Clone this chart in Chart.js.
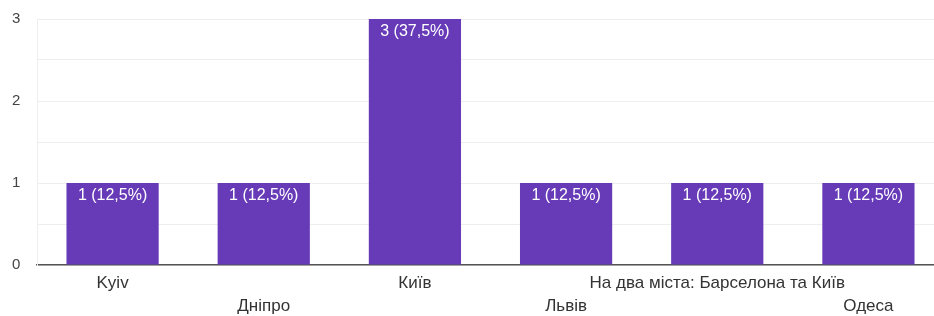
<!DOCTYPE html>
<html>
<head>
<meta charset="utf-8">
<script src="https://cdn.jsdelivr.net/npm/chart.js@4"></script>
<style>
    html, body { margin: 0; padding: 0; background: #fff; overflow: hidden; }
    #wrap { width: 944px; height: 316px; }
</style>
</head>
<body>
<div id="wrap"><canvas id="answersChart"></canvas></div>
<script>
// Chart data
const categories = ['Kyiv', 'Дніпро', 'Київ', 'Львів', 'На два міста: Барселона та Київ', 'Одеса'];
const answerCounts = [1, 1, 3, 1, 1, 1];
const yTicks = [0, 1, 2, 3];

// alternate labels between two rows so they don't overlap
const tickLabels = categories.map((c, i) => i % 2 === 0 ? [c] : ['', c]);

const FONT = '"Liberation Sans", Arial, sans-serif';

// draws "n (xx,x%)" inside the top of each bar
const barLabels = {
    id: 'barLabels',
    afterDatasetsDraw(chart) {
        const ctx = chart.ctx;
        const data = chart.data.datasets[0].data;
        const total = data.reduce((a, b) => a + b, 0);
        const meta = chart.getDatasetMeta(0);
        ctx.save();
        ctx.font = '16px ' + FONT;
        ctx.fillStyle = '#ffffff';
        ctx.textAlign = 'center';
        ctx.textBaseline = 'middle';
        meta.data.forEach((bar, i) => {
            const pct = (data[i] / total * 100).toFixed(1).replace('.', ',');
            ctx.fillText(data[i] + ' (' + pct + '%)', bar.x, bar.y + 13);
        });
        ctx.restore();
    }
};

const ctx = document.getElementById('answersChart').getContext('2d');
new Chart(ctx, {
    type: 'bar',
    data: {
        labels: tickLabels,
        datasets: [{
            data: answerCounts,
            backgroundColor: '#673ab7',
            categoryPercentage: 1,
            barPercentage: 0.61
        }]
    },
    options: {
        responsive: true,
        maintainAspectRatio: false,
        animation: false,
        layout: { padding: { top: 19, right: 0, left: 12, bottom: 0 } },
        plugins: {
            legend: { display: false },
            tooltip: { enabled: false }
        },
        scales: {
            x: {
                grid: { display: false, drawTicks: false },
                border: { display: true, color: '#555555', width: 1.5 },
                ticks: {
                    color: '#333333',
                    font: { family: FONT, size: 17, lineHeight: 1.35 },
                    maxRotation: 0,
                    autoSkip: false,
                    padding: 7
                },
                afterFit(scale) { scale.height = 51; }
            },
            y: {
                min: yTicks[0],
                max: yTicks[yTicks.length - 1],
                grid: { color: '#eeeeee', drawTicks: false },
                border: { display: true, color: '#eeeeee' },
                ticks: {
                    stepSize: 0.5,
                    color: '#444444',
                    font: { family: FONT, size: 15 },
                    padding: 0,
                    crossAlign: 'far',
                    callback: v => yTicks.includes(v) ? v : ''
                },
                afterFit(scale) { scale.width = 25; }
            }
        }
    },
    plugins: [barLabels]
});
</script>
</body>
</html>
